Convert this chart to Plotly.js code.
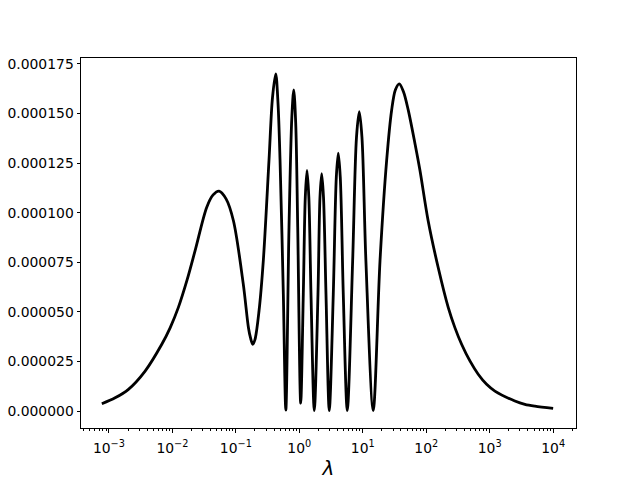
<!DOCTYPE html>
<html>
<head>
<meta charset="utf-8">
<script src="https://cdn.plot.ly/plotly-3.0.1.min.js"></script>
<style>
  body { margin: 0; }
  #plot { width: 640px; height: 480px; }
</style>
</head>
<body>
<div id="plot"></div>
<script>
// lambda values
var lam = [
  7.73e-4, 1.253e-3, 2.03e-3, 3.72e-3, 6.81e-3, 9.21e-3, 1.243e-2, 1.70e-2,
  2.28e-2, 3.48e-2, 4.38e-2, 5.43e-2, 7.01e-2, 9.14e-2, 0.131, 0.158,
  0.170, 0.185, 0.200, 0.232, 0.271, 0.333, 0.378, 0.425, 0.462,
  0.497, 0.560, 0.613, 0.688, 0.762, 0.817, 0.878, 0.944,
  1.052, 1.156, 1.243, 1.322, 1.412, 1.528, 1.722, 1.968,
  2.118, 2.253, 2.404, 2.633, 2.966, 3.43, 3.83, 4.11,
  4.42, 4.93, 5.70, 6.93, 7.96, 8.81, 9.71, 11.2,
  14.6, 18.7, 23.8, 28.5, 32.7, 37.6, 43.8, 52.1,
  66.4, 79.6, 107, 154, 222, 283, 361, 488, 659, 894, 1208,
  2495, 3585, 5150, 10000
];

// curve values
var val = [
  3.7e-6, 6.7e-6, 11e-6, 20.2e-6, 33.7e-6, 42e-6, 52.3e-6, 66e-6,
  80.9e-6, 102.8e-6, 109e-6, 110.9e-6, 107e-6, 96.1e-6, 64e-6, 42e-6,
  37e-6, 33.7e-6, 36e-6, 50.6e-6, 75.9e-6, 126.5e-6, 158e-6, 170e-6, 155e-6,
  126.5e-6, 59e-6, 0.5e-6, 92.7e-6, 148e-6, 161.9e-6, 145e-6, 92.7e-6,
  4e-6, 59e-6, 108e-6, 121.4e-6, 108e-6, 59e-6, 0.3e-6, 59e-6,
  108e-6, 119.7e-6, 108e-6, 59e-6, 0.3e-6, 59e-6, 118e-6, 130.1e-6,
  118e-6, 59e-6, 0.3e-6, 75.9e-6, 138e-6, 150.9e-6, 138e-6, 75.9e-6,
  0.3e-6, 75.9e-6, 126.5e-6, 151.7e-6, 162e-6, 165e-6, 161e-6, 151.7e-6,
  134.9e-6, 121.4e-6, 96.1e-6, 72.5e-6, 52.3e-6, 42.1e-6, 33.7e-6, 25.3e-6, 18.6e-6, 13.5e-6, 10.1e-6,
  5.1e-6, 3.4e-6, 2.5e-6, 1.4e-6
];

var yTicks = [0, 0.000025, 0.00005, 0.000075, 0.0001, 0.000125, 0.00015, 0.000175];
var xTicks = [1e-3, 1e-2, 1e-1, 1, 10, 100, 1000, 10000];
var xTickText = ["10<sup>−3</sup>", "10<sup>−2</sup>", "10<sup>−1</sup>", "10<sup>0</sup>",
                 "10<sup>1</sup>", "10<sup>2</sup>", "10<sup>3</sup>", "10<sup>4</sup>"];

var trace = {
    x: lam,
    y: val,
    type: "scatter",
    mode: "lines",
    line: {color: "black", width: 2.8, shape: "spline", smoothing: 0.9},
    hoverinfo: "skip"
};

var tickFont = {family: "DejaVu Sans", size: 13.9, color: "black"};

var layout = {
    width: 640,
    height: 480,
    margin: {l: 81, r: 64, t: 58, b: 52},
    paper_bgcolor: "white",
    plot_bgcolor: "white",
    showlegend: false,
    xaxis: {
        type: "log",
        range: [-3.44, 4.36],
        tickvals: xTicks,
        ticktext: xTickText,
        showgrid: false,
        zeroline: false,
        showline: true,
        mirror: true,
        linecolor: "black",
        linewidth: 1,
        ticks: "outside",
        ticklen: 3.5,
        tickcolor: "black",
        tickfont: tickFont,
        ticklabelstandoff: 4,
        minor: {ticks: "outside", ticklen: 2, tickcolor: "black", dtick: "D1", showgrid: false},
        title: {text: "<i>λ</i>", font: {family: "DejaVu Sans", size: 20, color: "black"}, standoff: 5}
    },
    yaxis: {
        range: [-0.0000085, 0.000178],
        tickvals: yTicks,
        tickformat: ".6f",
        showgrid: false,
        zeroline: false,
        showline: true,
        mirror: true,
        linecolor: "black",
        linewidth: 1,
        ticks: "outside",
        ticklen: 3.5,
        tickcolor: "black",
        tickfont: tickFont
    }
};

Plotly.newPlot("plot", [trace], layout, {displayModeBar: false, staticPlot: true});
</script>
</body>
</html>
